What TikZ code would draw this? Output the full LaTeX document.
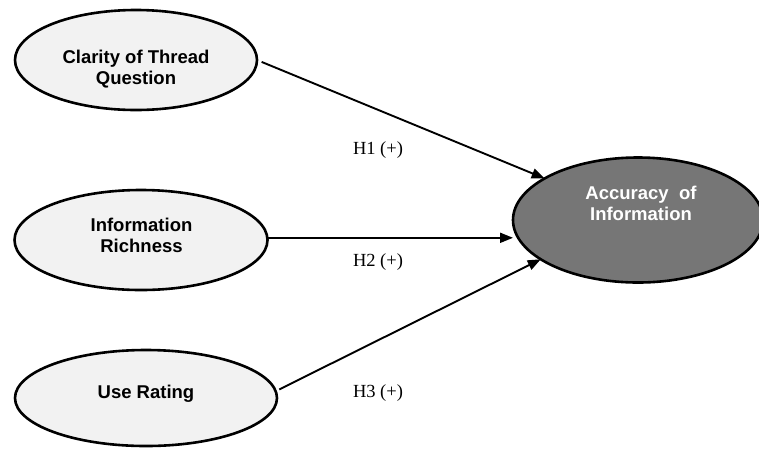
\documentclass[tikz,border=0pt]{standalone}
\usepackage{fontspec}
\setmainfont{Liberation Serif}
\setsansfont{Liberation Sans}
\usetikzlibrary{arrows.meta,shapes.geometric}
\definecolor{lightfill}{RGB}{242,242,242}
\definecolor{darkfill}{RGB}{118,118,118}
\begin{document}
\begin{tikzpicture}[x=1pt,y=-1pt,
  latent/.style={ellipse, draw=black, line width=2.6pt, inner sep=0pt, outer sep=0pt},
  srcnode/.style={latent, fill=lightfill},
  tgtnode/.style={latent, fill=darkfill},
  ltext/.style={font=\sffamily\bfseries\fontsize{18.5}{21}\selectfont, align=center, text=black, inner sep=0pt},
  wtext/.style={ltext, text=white},
  hyp/.style={font=\rmfamily\fontsize{18.5}{20}\selectfont, inner sep=0pt},
  arr/.style={line width=1.9pt, -{Triangle[length=13pt,width=10pt]}}
]
\useasboundingbox (0,0) rectangle (759,448);
\fill[white] (0,0) rectangle (759,448);

\node[srcnode, minimum width=242pt, minimum height=100pt] (e1) at (136,60) {};
\node[srcnode, minimum width=253pt, minimum height=100pt] (e2) at (141,240) {};
\node[srcnode, minimum width=262pt, minimum height=96pt] (e3) at (146,398) {};
\node[tgtnode, minimum width=250pt, minimum height=125pt] (acc) at (638,220) {};

\node[ltext] (t1) at (136,69.5) {Clarity of Thread\\Question};
\node[ltext] (t2) at (141.5,235.5) {Information\\Richness};
\node[ltext] (t3) at (146,394) {Use Rating};
\node[wtext] (t4) at (641,203) {Accuracy\ \ of\\Information};

\draw[arr, shorten <=5pt] (e1.east) -- (acc.156);
\draw[arr] (e2.1) -- (e2.1 -| acc.west);
\draw[arr, shorten <=4pt] (e3.3) -- (acc.202);

\node[hyp] (h1) at (378,150) {H1 (+)};
\node[hyp] (h2) at (378,262) {H2 (+)};
\node[hyp] (h3) at (378,393) {H3 (+)};
\end{tikzpicture}
\end{document}
